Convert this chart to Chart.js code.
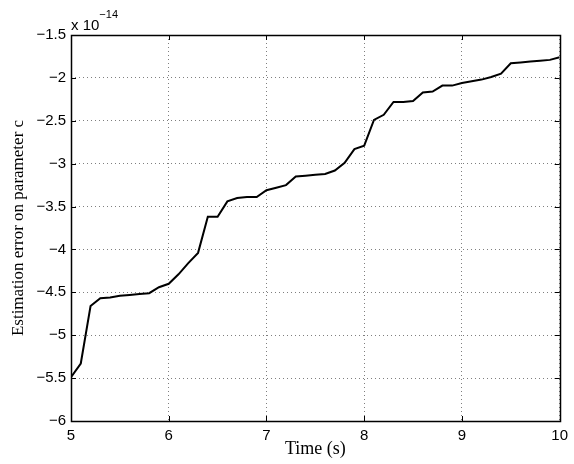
<!DOCTYPE html>
<html>
<head>
<meta charset="utf-8">
<script src="https://cdn.jsdelivr.net/npm/chart.js@4.4.1/dist/chart.umd.min.js"></script>
<style>
  html, body { margin: 0; padding: 0; background: #fff; }
  #wrap { width: 574px; height: 464px; position: relative; }
</style>
</head>
<body>
<div id="wrap"><canvas id="chart"></canvas></div>
<script>
'use strict'

// time samples (s)
const time = [5.0, 5.1, 5.2, 5.3, 5.4, 5.5, 5.6, 5.7, 5.8, 5.9,
  6.0, 6.1, 6.2, 6.3, 6.4, 6.5, 6.6, 6.7, 6.8, 6.9,
  7.0, 7.1, 7.2, 7.3, 7.4, 7.5, 7.6, 7.7, 7.8, 7.9,
  8.0, 8.1, 8.2, 8.3, 8.4, 8.5, 8.6, 8.7, 8.8, 8.9,
  9.0, 9.1, 9.2, 9.3, 9.4, 9.5, 9.6, 9.7, 9.8, 9.9, 10.0];

// estimation error, in units of 1e-14
const errorC = [-5.49, -5.33, -4.66, -4.57, -4.56, -4.54, -4.53, -4.52, -4.51, -4.44,
  -4.40, -4.29, -4.16, -4.04, -3.62, -3.62, -3.44, -3.40, -3.39, -3.39,
  -3.31, -3.28, -3.25, -3.15, -3.14, -3.13, -3.12, -3.08, -2.99, -2.83,
  -2.79, -2.49, -2.43, -2.28, -2.28, -2.27, -2.17, -2.16, -2.09, -2.09,
  -2.06, -2.04, -2.02, -1.99, -1.95, -1.83, -1.82, -1.81, -1.80, -1.79, -1.76];

const xTicks = [5, 6, 7, 8, 9, 10];
const yTicks = [-6, -5.5, -5, -4.5, -4, -3.5, -3, -2.5, -2, -1.5];

const points = time.map((t, i) => ({x: t, y: errorC[i]}));

// MATLAB style box, inward ticks and the exponent label
const boxPlugin = {
  id: 'box',
  afterDraw(chart) {
    const {ctx, chartArea: a, scales} = chart;
    ctx.save();
    ctx.strokeStyle = '#000';
    ctx.lineWidth = 1;
    ctx.beginPath();
    xTicks.forEach(v => {
      const px = Math.round(scales.x.getPixelForValue(v)) + 0.5;
      ctx.moveTo(px, a.bottom); ctx.lineTo(px, a.bottom - 5);
      ctx.moveTo(px, a.top); ctx.lineTo(px, a.top + 5);
    });
    yTicks.forEach(v => {
      const py = Math.round(scales.y.getPixelForValue(v)) + 0.5;
      ctx.moveTo(a.left, py); ctx.lineTo(a.left + 5, py);
      ctx.moveTo(a.right, py); ctx.lineTo(a.right - 5, py);
    });
    ctx.stroke();
    ctx.lineWidth = 1.5;
    ctx.strokeRect(Math.round(a.left) + 0.5, Math.round(a.top) + 0.5,
      Math.round(a.right - a.left), Math.round(a.bottom - a.top));

    ctx.fillStyle = '#000';
    ctx.textBaseline = 'alphabetic';
    ctx.textAlign = 'left';
    ctx.font = '15px "Liberation Sans", Arial, sans-serif';
    ctx.fillText('x 10', a.left, a.top - 5);
    const w = ctx.measureText('x 10').width;
    ctx.font = '11px "Liberation Sans", Arial, sans-serif';
    ctx.fillText('\u221214', a.left + w, a.top - 17);
    ctx.restore();
  }
};

const fmt = v => (v < 0 ? '\u2212' : '') + Math.abs(v);

const ctx = document.getElementById('chart');
new Chart(ctx, {
  type: 'line',
  data: {
    datasets: [{
      data: points,
      borderColor: '#000',
      borderWidth: 2,
      pointRadius: 0,
      tension: 0,
      fill: false
    }]
  },
  options: {
    responsive: true,
    maintainAspectRatio: false,
    animation: false,
    layout: {
      padding: {left: 0, right: 14, top: 35, bottom: 0}
    },
    plugins: {
      legend: {display: false},
      tooltip: {enabled: false}
    },
    scales: {
      x: {
        type: 'linear',
        min: 5,
        max: 10,
        afterBuildTicks: axis => { axis.ticks = xTicks.map(v => ({value: v})); },
        afterFit: axis => { axis.height = 43; },
        grid: {
          color: 'rgba(0,0,0,0.5)',
          drawTicks: false,
          lineWidth: 1
        },
        border: {display: false, dash: [1, 3]},
        ticks: {
          color: '#000',
          padding: 6,
          maxRotation: 0,
          font: {family: '"Liberation Sans", Arial, sans-serif', size: 15},
          callback: v => fmt(v)
        },
        title: {
          display: true,
          text: 'Time (s)',
          color: '#000',
          padding: {top: 0, bottom: 4},
          font: {family: '"Liberation Serif", "Times New Roman", serif', size: 18}
        }
      },
      y: {
        type: 'linear',
        min: -6,
        max: -1.5,
        afterBuildTicks: axis => { axis.ticks = yTicks.map(v => ({value: v})); },
        afterFit: axis => { axis.width = 71; },
        grid: {
          color: 'rgba(0,0,0,0.5)',
          drawTicks: false,
          lineWidth: 1
        },
        border: {display: false, dash: [1, 3]},
        ticks: {
          color: '#000',
          padding: 5,
          font: {family: '"Liberation Sans", Arial, sans-serif', size: 15},
          callback: v => fmt(v)
        },
        title: {
          display: true,
          text: 'Estimation error on parameter c',
          color: '#000',
          padding: {top: 8, bottom: 0},
          font: {family: '"Liberation Serif", "Times New Roman", serif', size: 17}
        }
      }
    }
  },
  plugins: [boxPlugin]
});
</script>
</body>
</html>
